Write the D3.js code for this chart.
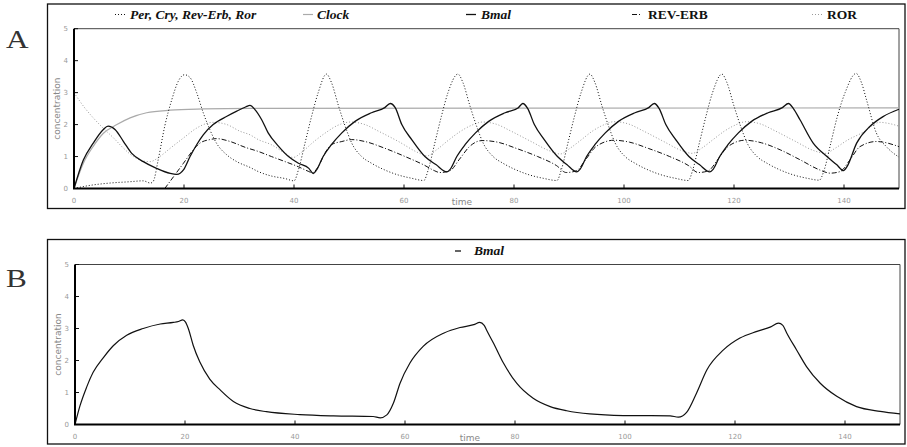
<!DOCTYPE html>
<meta charset="utf-8">
<html>
<head>
  <script src="https://cdn.jsdelivr.net/npm/d3@7"></script>
  <style>
    body { margin: 0; background: #fff; }
    .tick-lab { font: 7px "DejaVu Sans", sans-serif; fill: #999; }
    .ax-lab { font: 9px "DejaVu Sans", sans-serif; fill: #888; }
    .leg { font: bold italic 13.5px "Liberation Serif", serif; fill: #111; }
    .panel-lab { font: 25px "Liberation Serif", serif; fill: #333; }
  </style>
</head>
<body>
<div id="chart"></div>
<script>
// ---- data: [time, concentration] ----
const perCry = [[0,0],[3,0.1],[6.5,0.17],[10,0.21],[12.6,0.24],[13.9,0.17],[14.4,0.22],[15.3,0.89],[16.5,1.95],[17.8,2.79],[19,3.37],[20.1,3.56],[21.1,3.47],[22.3,3.0],[23.5,2.37],[24.7,1.84],[25.9,1.42],[27.8,1.05],[29.6,0.84],[32,0.66],[33.5,0.53],[35.9,0.39],[38.4,0.31],[40,0.24],
  [40.8,0.58],[42,1.42],[43.2,2.26],[44.4,3.0],[45.9,3.58],[46.8,3.32],[48.1,2.58],[49.3,1.95],[50.5,1.42],[52.3,1.0],[54.1,0.79],[56.5,0.58],[59,0.42],[61.4,0.32],[63.6,0.25],
  [64.4,0.58],[65.6,1.42],[66.8,2.26],[68,3.0],[69.8,3.58],[70.7,3.32],[72,2.58],[73.2,1.95],[74.4,1.42],[76.2,1.0],[78,0.79],[80.4,0.58],[82.9,0.42],[85.3,0.32],[87.8,0.25],
  [88.6,0.58],[89.8,1.42],[91,2.26],[92.2,3.0],[93.8,3.58],[94.7,3.32],[96,2.58],[97.2,1.95],[98.4,1.42],[100.2,1.0],[102,0.79],[104.4,0.58],[106.9,0.42],[109.3,0.32],[111.7,0.25],
  [112.5,0.58],[113.7,1.42],[114.9,2.26],[116.1,3.0],[117.8,3.58],[118.7,3.32],[120,2.58],[121.2,1.95],[122.4,1.42],[124.2,1.0],[126,0.79],[128.4,0.58],[130.9,0.42],[133.3,0.32],[135.5,0.26],
  [136.4,0.58],[137.6,1.42],[138.8,2.26],[140.2,3.0],[142.2,3.6],[143.2,3.3],[144.1,2.77],[145.9,1.73],[147.7,1.31],[150,0.98]];

const clock = [[0,0],[1.7,0.79],[3.5,1.32],[5.3,1.72],[7.8,2.0],[10.2,2.21],[13.2,2.37],[17.5,2.45],[23.5,2.49],[32,2.51],[150,2.52]];

const bmalA = [[0,0],[1.7,0.89],[3.5,1.42],[5.3,1.84],[6.2,1.95],[7.5,1.84],[9,1.47],[10.5,1.1],[12.6,0.84],[15,0.63],[17.5,0.47],[18.7,0.44],[19.9,0.58],[21.1,1.0],[22.3,1.37],[23.5,1.68],[25.3,2.0],[27.8,2.26],[29.6,2.42],[31.2,2.55],[32,2.6],[32.9,2.47],[34.1,2.16],[35.3,1.74],[37.2,1.32],[39,1.0],[40.8,0.79],[42.7,0.63],[43.5,0.47],
  [44.1,0.58],[45.3,1.0],[46.8,1.37],[48.7,1.74],[51.1,2.1],[54.1,2.37],[56.5,2.53],[57.5,2.66],[58.4,2.53],[59.6,2.0],[61.4,1.53],[63.8,1.0],[65.8,0.75],[67.8,0.52],
  [68.4,0.6],[69.6,1.0],[71.1,1.37],[73,1.74],[75.4,2.1],[78.4,2.37],[80.8,2.53],[81.6,2.66],[82.5,2.5],[83.7,2.0],[85.5,1.53],[87.9,1.0],[89.6,0.75],[91.4,0.52],
  [92,0.6],[93.2,1.0],[94.7,1.37],[96.6,1.74],[99,2.1],[102,2.37],[104.5,2.53],[105.5,2.66],[106.4,2.5],[107.6,2.0],[109.4,1.53],[111.8,1.0],[113.7,0.75],[115.6,0.52],
  [116.2,0.6],[117.4,1.0],[118.9,1.37],[120.8,1.74],[123.2,2.1],[126.2,2.37],[128.8,2.53],[129.9,2.66],[130.8,2.5],[132,2.15],[134.4,1.42],[136.9,1.0],[138.7,0.74],[139.9,0.56],
  [140.6,0.7],[142.3,1.42],[144.7,1.94],[147.1,2.25],[150,2.48]];

const revErb = [[16.5,0],[18.1,0.37],[19.9,0.79],[21.7,1.21],[22.9,1.42],[24.7,1.53],[25.9,1.56],[28.4,1.47],[31.1,1.29],[33.5,1.16],[35.9,1.0],[38.4,0.84],[40.8,0.68],[42.7,0.53],[43.3,0.49],
  [44.4,0.68],[45.6,1.1],[46.8,1.37],[48.7,1.47],[50.5,1.53],[52.9,1.47],[56.5,1.26],[60.2,1.0],[63.8,0.72],[65.5,0.56],[66.5,0.5],
  [68.3,0.55],[70.1,0.92],[71.9,1.31],[74.2,1.5],[77,1.45],[80.5,1.25],[84.3,1.0],[87.7,0.72],[89.5,0.5],
  [91.3,0.55],[93.1,0.92],[94.9,1.31],[98.2,1.51],[101,1.45],[104.5,1.25],[108.3,1.0],[111.7,0.72],[113.5,0.5],
  [115.3,0.55],[117.1,0.92],[118.9,1.31],[122,1.51],[125,1.43],[128.4,1.21],[132,0.9],[135.6,0.58],[137.5,0.48],
  [139.3,0.53],[141.1,0.9],[142.9,1.31],[145.9,1.47],[150,1.31]];

const ror = [[0,3.0],[1.7,2.58],[3.5,2.21],[5.3,1.89],[7.2,1.58],[9,1.26],[10.8,1.0],[12.6,0.86],[13.8,0.84],[15.6,1.0],[17.5,1.26],[19.9,1.58],[22.3,1.89],[24.2,2.04],[25.3,2.07],[27.8,2.0],[30.2,1.79],[32,1.68],[33.5,1.53],[35.9,1.37],[38.4,1.1],[39.8,0.97],
  [41.5,1.15],[43.5,1.45],[45.8,1.75],[48,1.98],[50.3,2.08],[52.9,2.0],[55.4,1.79],[59,1.47],[62.6,1.12],[64.2,1.02],
  [66,1.22],[68,1.5],[70.2,1.78],[72.3,1.98],[74.3,2.08],[76.8,2.01],[79.4,1.8],[83,1.48],[86.6,1.17],[88.4,1.08],
  [90.2,1.26],[92.2,1.52],[94.3,1.8],[96.3,1.99],[98.2,2.09],[100.8,2.02],[103.4,1.81],[107,1.49],[110.6,1.18],[112.4,1.1],
  [114.2,1.27],[116.2,1.53],[118.3,1.8],[120.3,1.99],[122.2,2.09],[124.8,2.02],[127.4,1.81],[131,1.49],[134.6,1.18],[136.6,1.1],
  [138.4,1.26],[140.5,1.5],[143.5,1.76],[146.5,2.07],[148,2.04],[150,1.95]];

const bmalB = [[0,0],[0.9,0.58],[2.1,1.16],[3.3,1.63],[5.2,2.1],[7,2.47],[9.4,2.79],[12.4,3.0],[15.5,3.14],[17.9,3.19],[18.8,3.22],[19.6,3.27],[20.1,3.2],[20.6,3.0],[21.5,2.47],[22.7,1.95],[24.5,1.42],[26.4,1.08],[28.8,0.72],[31.8,0.5],[34.8,0.4],[40.9,0.31],[47,0.27],[54.2,0.25],[55.5,0.21],
  [56.7,0.3],[57.9,0.67],[59.1,1.29],[60.9,1.92],[63.3,2.44],[67.1,2.86],[70,3.03],[72.5,3.12],[73.6,3.19],[74.4,3.1],[74.8,2.96],[76.1,2.54],[77.9,1.92],[80.3,1.29],[83.3,0.82],[86.4,0.56],[89.4,0.43],[93.6,0.33],[99.7,0.28],[108.2,0.27],[109.7,0.23],
  [111.2,0.38],[113,0.98],[114.9,1.71],[117.9,2.33],[120.9,2.7],[124,2.91],[126.5,3.05],[127.9,3.17],[128.7,3.1],[129.4,2.86],[131.2,2.33],[133,1.81],[135.5,1.29],[138.5,0.88],[142.1,0.56],[146.4,0.41],[150,0.33]];

const xTicks = [20, 40, 60, 80, 100, 120, 140];
const xLabels = [0, 20, 40, 60, 80, 100, 120, 140];
const yTicks = [0, 1, 2, 3, 4, 5];

// line styles
const styles = {
  per:    {stroke: "#111", width: 1, dash: "1,2"},
  clock:  {stroke: "#aaa", width: 1.2, dash: null},
  bmal:   {stroke: "#111", width: 1.3, dash: null},
  bmalB:  {stroke: "#111", width: 1.2, dash: null},
  revErb: {stroke: "#111", width: 1, dash: "5,2,1,2"},
  ror:    {stroke: "#999", width: 1, dash: "1,2"}
};

const W = 907, H = 447;
const svg = d3.select("#chart").append("svg")
  .attr("width", W).attr("height", H);

function panel(cfg) {
  const g = svg.append("g");
  // outer frame
  g.append("rect")
    .attr("x", cfg.box[0]).attr("y", cfg.box[1])
    .attr("width", cfg.box[2] - cfg.box[0]).attr("height", cfg.box[3] - cfg.box[1])
    .attr("fill", "none").attr("stroke", "#111").attr("stroke-width", 1.3);

  g.append("text").attr("class", "panel-lab")
    .attr("transform", `translate(${cfg.labelPos[0]},${cfg.labelPos[1]}) scale(1.25,1)`)
    .text(cfg.label);

  const x = d3.scaleLinear().domain([0, 150]).range([cfg.plot[0], cfg.plot[2]]);
  const y = d3.scaleLinear().domain([0, 5]).range([cfg.plot[3], cfg.plot[1]]);

  // thin top/right border of plot
  g.append("path")
    .attr("d", `M${x(0)},${y(5)}H${x(150)}V${y(0)}`)
    .attr("fill", "none").attr("stroke", "#444").attr("stroke-width", 1);

  // ticks
  g.selectAll(".xt").data(xTicks).enter().append("line")
    .attr("x1", d => x(d)).attr("x2", d => x(d))
    .attr("y1", y(0)).attr("y2", y(0) - 4)
    .attr("stroke", "#111").attr("stroke-width", 1);
  g.selectAll(".yt").data(yTicks.slice(1)).enter().append("line")
    .attr("x1", x(0)).attr("x2", x(0) + 4)
    .attr("y1", d => y(d)).attr("y2", d => y(d))
    .attr("stroke", "#111").attr("stroke-width", 1);

  g.selectAll(".xl").data(xLabels).enter().append("text")
    .attr("class", "tick-lab").attr("text-anchor", "middle")
    .attr("x", d => x(d)).attr("y", y(0) + 14).text(d => d);
  g.selectAll(".yl").data(yTicks).enter().append("text")
    .attr("class", "tick-lab").attr("text-anchor", "end")
    .attr("x", x(0) - 6).attr("y", d => y(d) + 2.5).text(d => d);

  g.append("text").attr("class", "ax-lab").attr("text-anchor", "middle")
    .attr("transform", `translate(${x(0) - 14},${(y(0) + y(5)) / 2}) rotate(-90)`)
    .text("concentration");
  g.append("text").attr("class", "ax-lab").attr("text-anchor", "middle")
    .attr("x", cfg.timeX).attr("y", y(0) + 16).text("time");

  const line = d3.line().x(d => x(d[0])).y(d => y(d[1])).curve(d3.curveMonotoneX);
  cfg.series.forEach(s => {
    const st = styles[s.style];
    g.append("path").datum(s.data)
      .attr("d", line)
      .attr("fill", "none")
      .attr("stroke", st.stroke)
      .attr("stroke-width", st.width)
      .attr("stroke-dasharray", st.dash);
  });

  // heavy left and bottom axes
  g.append("path")
    .attr("d", `M${x(0)},${y(5)}V${y(0)}H${x(150)}`)
    .attr("fill", "none").attr("stroke", "#000").attr("stroke-width", 2);

  // legend
  cfg.legend.forEach(l => {
    const st = styles[l.style];
    g.append("line")
      .attr("x1", l.x1).attr("x2", l.x2)
      .attr("y1", cfg.legendY - 4).attr("y2", cfg.legendY - 4)
      .attr("stroke", st.stroke).attr("stroke-width", st.width)
      .attr("stroke-dasharray", st.dash);
    g.append("text").attr("class", "leg")
      .attr("x", l.tx).attr("y", cfg.legendY)
      .style("font-style", l.italic ? "italic" : "normal")
      .text(l.name);
  });
}

panel({
  label: "A", labelPos: [6, 48],
  box: [47.5, 4, 905, 208.5],
  plot: [74, 28.7, 899, 188.5],
  timeX: 462, legendY: 18.5,
  series: [
    {data: clock, style: "clock"},
    {data: ror, style: "ror"},
    {data: revErb, style: "revErb"},
    {data: perCry, style: "per"},
    {data: bmalA, style: "bmal"}
  ],
  legend: [
    {name: "Per, Cry, Rev-Erb, Ror", style: "per", x1: 115, x2: 126, tx: 130, italic: true},
    {name: "Clock", style: "clock", x1: 303, x2: 313, tx: 317, italic: true},
    {name: "Bmal", style: "bmal", x1: 466, x2: 476, tx: 481, italic: true},
    {name: "REV-ERB", style: "revErb", x1: 632, x2: 642, tx: 648, italic: false},
    {name: "ROR", style: "ror", x1: 812, x2: 823, tx: 827, italic: false}
  ]
});

panel({
  label: "B", labelPos: [6, 287],
  box: [47.5, 239.5, 905, 444],
  plot: [75, 264.5, 900, 424.5],
  timeX: 470, legendY: 255,
  series: [
    {data: bmalB, style: "bmalB"}
  ],
  legend: [
    {name: "Bmal", style: "bmal", x1: 455, x2: 461, tx: 474, italic: true}
  ]
});
</script>
</body>
</html>
